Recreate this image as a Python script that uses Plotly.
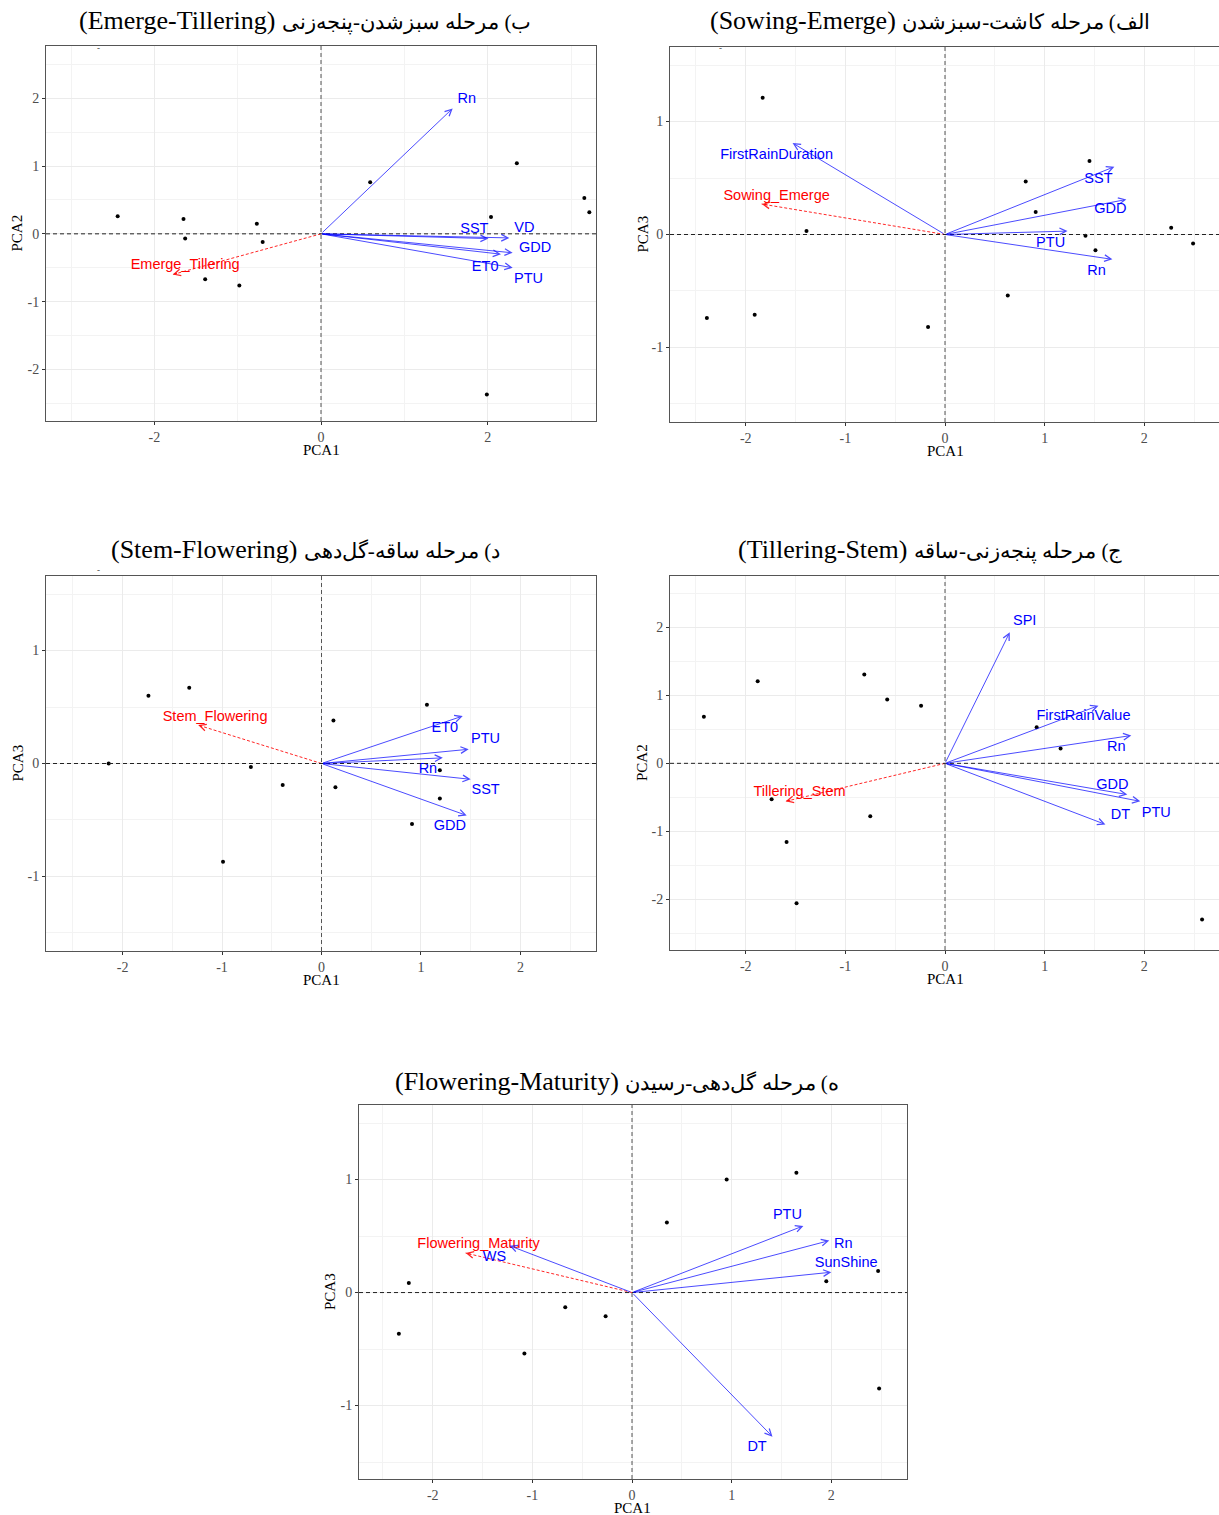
import plotly.graph_objects as go

W, H = 1219, 1515

# ---------------- Panel 1 : Emerge-Tillering (PCA1 vs PCA2) ----------------
p1_title_en = "(Emerge-Tillering)"
p1_title_fa = "ب) مرحله سبزشدن-پنجه‌زنی"
p1_ylab = "PCA2"
p1_score_x = [-2.44, -1.65, -1.63, -0.77, -0.70, -1.39, -0.98, 0.59, 2.35, 2.04, 3.16, 3.22, 1.99]
p1_score_y = [0.26, 0.22, -0.07, 0.15, -0.12, -0.67, -0.76, 0.76, 1.04, 0.25, 0.53, 0.32, -2.37]
p1_vars = ["Rn", "SST", "VD", "GDD", "ET0", "PTU"]
p1_load_x = [1.58, 2.01, 2.26, 2.30, 2.16, 2.30]
p1_load_y = [1.85, -0.07, -0.06, -0.28, -0.30, -0.50]
p1_lab_x = [1.75, 1.84, 2.44, 2.57, 1.97, 2.49]
p1_lab_y = [1.98, 0.07, 0.08, -0.22, -0.49, -0.67]
p1_resp = "Emerge_Tillering"
p1_resp_x, p1_resp_y = -1.78, -0.60
p1_resp_lab_x, p1_resp_lab_y = -1.63, -0.47
p1_xticks = [-2, 0, 2]
p1_xticklabels = ["-2", "0", "2"]
p1_yticks = [-2, -1, 0, 1, 2]
p1_yticklabels = ["-2", "-1", "0", "1", "2"]

# ---------------- Panel 2 : Sowing-Emerge (PCA1 vs PCA3) ----------------
p2_title_en = "(Sowing-Emerge)"
p2_title_fa = "الف) مرحله کاشت-سبزشدن"
p2_ylab = "PCA3"
p2_score_x = [-1.83, -1.39, -2.39, -1.91, -0.17, 0.63, 0.81, 0.91, 1.45, 1.41, 1.51, 2.27, 2.49]
p2_score_y = [1.21, 0.03, -0.74, -0.71, -0.82, -0.54, 0.47, 0.20, 0.65, -0.01, -0.14, 0.06, -0.08]
p2_vars = ["FirstRainDuration", "SST", "GDD", "PTU", "Rn"]
p2_load_x = [-1.53, 1.70, 1.82, 1.23, 1.68]
p2_load_y = [0.81, 0.60, 0.31, 0.03, -0.22]
p2_lab_x = [-1.69, 1.54, 1.66, 1.06, 1.52]
p2_lab_y = [0.70, 0.49, 0.22, -0.08, -0.33]
p2_resp = "Sowing_Emerge"
p2_resp_x, p2_resp_y = -1.84, 0.27
p2_resp_lab_x, p2_resp_lab_y = -1.69, 0.34
p2_xticks = [-2, -1, 0, 1, 2]
p2_xticklabels = ["-2", "-1", "0", "1", "2"]
p2_yticks = [-1, 0, 1]
p2_yticklabels = ["-1", "0", "1"]

# ---------------- Panel 3 : Stem-Flowering (PCA1 vs PCA3) ----------------
p3_title_en = "(Stem-Flowering)"
p3_title_fa = "د) مرحله ساقه-گل‌دهی"
p3_ylab = "PCA3"
p3_score_x = [-1.74, -1.33, -2.14, -0.71, -0.39, -0.99, 0.12, 0.14, 1.06, 1.19, 1.19, 0.91]
p3_score_y = [0.60, 0.67, 0.00, -0.03, -0.19, -0.87, 0.38, -0.21, 0.52, -0.06, -0.31, -0.535]
p3_vars = ["ET0", "PTU", "Rn", "SST", "GDD"]
p3_load_x = [1.42, 1.48, 1.22, 1.50, 1.46]
p3_load_y = [0.42, 0.126, 0.05, -0.14, -0.46]
p3_lab_x = [1.24, 1.65, 1.07, 1.65, 1.29]
p3_lab_y = [0.31, 0.21, -0.05, -0.235, -0.56]
p3_resp = "Stem_Flowering"
p3_resp_x, p3_resp_y = -1.24, 0.34
p3_resp_lab_x, p3_resp_lab_y = -1.07, 0.41
p3_xticks = [-2, -1, 0, 1, 2]
p3_xticklabels = ["-2", "-1", "0", "1", "2"]
p3_yticks = [-1, 0, 1]
p3_yticklabels = ["-1", "0", "1"]

# ---------------- Panel 4 : Tillering-Stem (PCA1 vs PCA2) ----------------
p4_title_en = "(Tillering-Stem)"
p4_title_fa = "ج) مرحله پنجه‌زنی-ساقه"
p4_ylab = "PCA2"
p4_score_x = [-2.42, -1.88, -0.81, -0.58, -0.24, 0.92, 1.16, -1.74, -1.59, -0.75, -1.49, 2.58]
p4_score_y = [0.685, 1.21, 1.31, 0.94, 0.85, 0.53, 0.22, -0.53, -1.16, -0.78, -2.06, -2.30]
p4_vars = ["SPI", "FirstRainValue", "Rn", "GDD", "PTU", "DT"]
p4_load_x = [0.65, 1.54, 1.87, 1.83, 1.96, 1.61]
p4_load_y = [1.93, 0.85, 0.41, -0.46, -0.56, -0.90]
p4_lab_x = [0.80, 1.39, 1.72, 1.68, 2.12, 1.76]
p4_lab_y = [2.09, 0.69, 0.235, -0.33, -0.735, -0.76]
p4_resp = "Tillering_Stem"
p4_resp_x, p4_resp_y = -1.60, -0.56
p4_resp_lab_x, p4_resp_lab_y = -1.46, -0.43
p4_xticks = [-2, -1, 0, 1, 2]
p4_xticklabels = ["-2", "-1", "0", "1", "2"]
p4_yticks = [-2, -1, 0, 1, 2]
p4_yticklabels = ["-2", "-1", "0", "1", "2"]

# ---------------- Panel 5 : Flowering-Maturity (PCA1 vs PCA3) ----------------
p5_title_en = "(Flowering-Maturity)"
p5_title_fa = "ه) مرحله گل‌دهی-رسیدن"
p5_ylab = "PCA3"
p5_score_x = [-2.24, -2.34, -1.08, -0.67, -0.265, 0.35, 0.95, 1.65, 1.95, 2.47, 2.48]
p5_score_y = [0.085, -0.365, -0.54, -0.13, -0.21, 0.62, 1.00, 1.06, 0.10, 0.19, -0.85]
p5_vars = ["PTU", "Rn", "SunShine", "WS", "DT"]
p5_load_x = [1.72, 1.98, 2.00, -1.23, 1.41]
p5_load_y = [0.59, 0.46, 0.18, 0.415, -1.275]
p5_lab_x = [1.56, 2.12, 2.15, -1.38, 1.255]
p5_lab_y = [0.68, 0.43, 0.26, 0.31, -1.37]
p5_resp = "Flowering_Maturity"
p5_resp_x, p5_resp_y = -1.67, 0.35
p5_resp_lab_x, p5_resp_lab_y = -1.54, 0.43
p5_xticks = [-2, -1, 0, 1, 2]
p5_xticklabels = ["-2", "-1", "0", "1", "2"]
p5_yticks = [-1, 0, 1]
p5_yticklabels = ["-1", "0", "1"]

# ---------------- layout geometry (pixels) ----------------
panels = [
    dict(ten=p1_title_en, tfa=p1_title_fa, ylab=p1_ylab, sx=p1_score_x, sy=p1_score_y,
         vars=p1_vars, lx=p1_load_x, ly=p1_load_y, tx=p1_lab_x, ty=p1_lab_y,
         resp=p1_resp, rx=p1_resp_x, ry=p1_resp_y, rtx=p1_resp_lab_x, rty=p1_resp_lab_y,
         xt=p1_xticks, xtl=p1_xticklabels, yt=p1_yticks, ytl=p1_yticklabels,
         box=(46, 596, 46, 421), xr=[-3.30, 3.30], yr=[-2.76, 2.77],
         xmd=1, xm0=1, ymd=0.5, ym0=0.5, tpos=(305, 20), ylabx=17, xlabx=321),
    dict(ten=p2_title_en, tfa=p2_title_fa, ylab=p2_ylab, sx=p2_score_x, sy=p2_score_y,
         vars=p2_vars, lx=p2_load_x, ly=p2_load_y, tx=p2_lab_x, ty=p2_lab_y,
         resp=p2_resp, rx=p2_resp_x, ry=p2_resp_y, rtx=p2_resp_lab_x, rty=p2_resp_lab_y,
         xt=p2_xticks, xtl=p2_xticklabels, yt=p2_yticks, ytl=p2_yticklabels,
         box=(670, 1219, 47, 422), xr=[-2.76, 2.75], yr=[-1.66, 1.66],
         xmd=0.5, xm0=0.5, ymd=0.5, ym0=0.5, tpos=(930, 20), ylabx=642, xlabx=945),
    dict(ten=p3_title_en, tfa=p3_title_fa, ylab=p3_ylab, sx=p3_score_x, sy=p3_score_y,
         vars=p3_vars, lx=p3_load_x, ly=p3_load_y, tx=p3_lab_x, ty=p3_lab_y,
         resp=p3_resp, rx=p3_resp_x, ry=p3_resp_y, rtx=p3_resp_lab_x, rty=p3_resp_lab_y,
         xt=p3_xticks, xtl=p3_xticklabels, yt=p3_yticks, ytl=p3_yticklabels,
         box=(46, 596, 576, 951), xr=[-2.77, 2.76], yr=[-1.66, 1.66],
         xmd=0.5, xm0=0.5, ymd=0.5, ym0=0.5, tpos=(305, 550), ylabx=17, xlabx=321),
    dict(ten=p4_title_en, tfa=p4_title_fa, ylab=p4_ylab, sx=p4_score_x, sy=p4_score_y,
         vars=p4_vars, lx=p4_load_x, ly=p4_load_y, tx=p4_lab_x, ty=p4_lab_y,
         resp=p4_resp, rx=p4_resp_x, ry=p4_resp_y, rtx=p4_resp_lab_x, rty=p4_resp_lab_y,
         xt=p4_xticks, xtl=p4_xticklabels, yt=p4_yticks, ytl=p4_yticklabels,
         box=(670, 1219, 576, 950), xr=[-2.76, 2.75], yr=[-2.75, 2.76],
         xmd=0.5, xm0=0.5, ymd=0.5, ym0=0.5, tpos=(930, 550), ylabx=642, xlabx=945),
    dict(ten=p5_title_en, tfa=p5_title_fa, ylab=p5_ylab, sx=p5_score_x, sy=p5_score_y,
         vars=p5_vars, lx=p5_load_x, ly=p5_load_y, tx=p5_lab_x, ty=p5_lab_y,
         resp=p5_resp, rx=p5_resp_x, ry=p5_resp_y, rtx=p5_resp_lab_x, rty=p5_resp_lab_y,
         xt=p5_xticks, xtl=p5_xticklabels, yt=p5_yticks, ytl=p5_yticklabels,
         box=(359, 907, 1105, 1479), xr=[-2.74, 2.76], yr=[-1.65, 1.66],
         xmd=0.5, xm0=0.5, ymd=0.5, ym0=0.5, tpos=(617, 1081), ylabx=330, xlabx=632),
]

SERIF = "Liberation Serif, Times New Roman, serif"
SANS = "Liberation Sans, Arial, sans-serif"
BLUE_LINE = "rgba(0,0,255,0.7)"
RED_LINE = "rgba(255,0,0,0.85)"


def px(x):
    return x / W


def py(y):
    return 1 - y / H


fig = go.Figure()
annotations = []
shapes = []
layout_axes = {}

for i, p in enumerate(panels, start=1):
    xa = "x" if i == 1 else f"x{i}"
    ya = "y" if i == 1 else f"y{i}"
    x0, x1, y0, y1 = p["box"]

    common = dict(
        showgrid=True, gridcolor="#EBEBEB", gridwidth=1,
        zeroline=False, showline=True, mirror=True, linecolor="#555555", linewidth=1,
        ticks="outside", ticklen=3, tickcolor="#333333", tickwidth=1,
        tickfont=dict(family=SERIF, size=14, color="#4D4D4D"),
        tickmode="array", fixedrange=True,
    )
    layout_axes["xaxis" if i == 1 else f"xaxis{i}"] = dict(
        common, domain=[px(x0), px(x1)], range=p["xr"], tickvals=p["xt"], ticktext=p["xtl"],
        anchor=ya,
        minor=dict(tickmode="linear", tick0=p["xm0"], dtick=p["xmd"], showgrid=True,
                   gridcolor="#F3F3F3", gridwidth=1, ticks=""),
    )
    layout_axes["yaxis" if i == 1 else f"yaxis{i}"] = dict(
        common, domain=[py(y1), py(y0)], range=p["yr"], tickvals=p["yt"], ticktext=p["ytl"],
        anchor=xa,
        minor=dict(tickmode="linear", tick0=p["ym0"], dtick=p["ymd"], showgrid=True,
                   gridcolor="#F3F3F3", gridwidth=1, ticks=""),
    )

    # reference dashed lines through origin
    shapes.append(dict(type="line", xref=xa, yref=f"{ya} domain", x0=0, x1=0, y0=0, y1=1,
                       line=dict(color="#555555", width=1, dash="4px,3px"), layer="above"))
    shapes.append(dict(type="line", xref=f"{xa} domain", yref=ya, x0=0, x1=1, y0=0, y1=0,
                       line=dict(color="#222222", width=1, dash="4px,3px"), layer="above"))

    # scores
    fig.add_trace(go.Scatter(x=p["sx"], y=p["sy"], mode="markers", xaxis=xa, yaxis=ya,
                             marker=dict(size=4, color="black"), showlegend=False,
                             hoverinfo="skip"))

    # response (red dashed) arrow shaft
    fig.add_trace(go.Scatter(x=[0, p["rx"]], y=[0, p["ry"]], mode="lines", xaxis=xa, yaxis=ya,
                             line=dict(color=RED_LINE, width=1, dash="3px,2px"),
                             showlegend=False, hoverinfo="skip"))
    annotations.append(dict(x=p["rx"], y=p["ry"], ax=p["rx"] * 0.96, ay=p["ry"] * 0.96,
                            xref=xa, yref=ya, axref=xa, ayref=ya, text="", showarrow=True,
                            arrowhead=5, arrowsize=1.3, arrowwidth=1, arrowcolor=RED_LINE,
                            standoff=0, startstandoff=0))

    # variable arrows
    for vx, vy in zip(p["lx"], p["ly"]):
        annotations.append(dict(x=vx, y=vy, ax=0, ay=0, xref=xa, yref=ya, axref=xa, ayref=ya,
                                text="", showarrow=True, arrowhead=5, arrowsize=1.3,
                                arrowwidth=1, arrowcolor=BLUE_LINE, standoff=0,
                                startstandoff=0))

    # labels
    fig.add_trace(go.Scatter(x=p["tx"], y=p["ty"], text=p["vars"], mode="text",
                             xaxis=xa, yaxis=ya, textposition="middle center",
                             textfont=dict(family=SANS, size=14.5, color="#0000FF"),
                             showlegend=False, hoverinfo="skip", cliponaxis=False))
    fig.add_trace(go.Scatter(x=[p["rtx"]], y=[p["rty"]], text=[p["resp"]], mode="text",
                             xaxis=xa, yaxis=ya, textposition="middle center",
                             textfont=dict(family=SANS, size=14.5, color="#FF0000"),
                             showlegend=False, hoverinfo="skip", cliponaxis=False))

    # title: English part (left) followed by Persian part (right, rendered RTL)
    tx, ty = p["tpos"]
    title_text = (f"<span style='font-size:26px'>{p['ten']}</span> "
                  f"<span style='font-size:21px'>{p['tfa']}</span>")
    annotations.append(dict(x=px(tx), y=py(ty), xref="paper", yref="paper", text=title_text,
                            showarrow=False, xanchor="center", yanchor="middle",
                            font=dict(family=SERIF, size=26, color="black")))
    # axis titles
    annotations.append(dict(x=px(p["xlabx"]), y=py(y1 + 29),
                            xref="paper", yref="paper", text="PCA1", showarrow=False,
                            xanchor="center", yanchor="middle",
                            font=dict(family=SERIF, size=15, color="black")))
    annotations.append(dict(x=px(p["ylabx"]), y=py((y0 + y1) / 2), xref="paper", yref="paper",
                            text=p["ylab"], showarrow=False, textangle=-90,
                            xanchor="center", yanchor="middle",
                            font=dict(family=SERIF, size=15, color="black")))

# small stray marks below some titles
for mx, my in [(95, 41), (720, 41), (95, 570)]:
    annotations.append(dict(x=px(mx), y=py(my), xref="paper", yref="paper", text="-",
                            showarrow=False, font=dict(family=SERIF, size=9, color="#333333")))

fig.update_layout(
    width=W, height=H,
    margin=dict(l=0, r=0, t=0, b=0),
    paper_bgcolor="white", plot_bgcolor="white",
    annotations=annotations, shapes=shapes,
    showlegend=False,
    **layout_axes,
)

fig.write_html("out.html", config={"displayModeBar": False},
               post_script="document.body.style.margin='0';document.body.style.overflow='hidden';")
